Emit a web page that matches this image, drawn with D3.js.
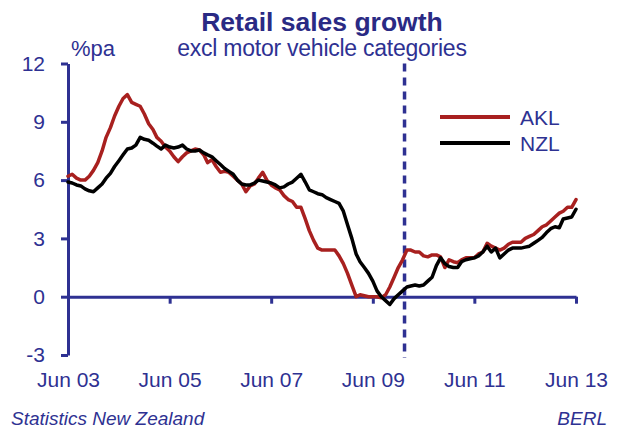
<!DOCTYPE html>
<html>
<head>
<meta charset="utf-8">
<script src="https://cdn.jsdelivr.net/npm/d3@7"></script>
<style>
  body { margin: 0; background: #fff; }
  svg { display: block; }
  text { font-family: "Liberation Sans", Arial, Helvetica, sans-serif; }
</style>
</head>
<body>
<svg id="chart" width="620" height="428"></svg>
<script>
// Annual % change in retail sales (excl. motor vehicle categories), monthly from Jun 2003
const firstMonth = new Date(2003, 5, 1);

const aklGrowth = [
  6.2, 6.3, 6.1, 6.0, 6.0, 6.2, 6.5, 6.9, 7.5, 8.2, 8.7, 9.3,
  9.8, 10.2, 10.4, 10.0, 9.9, 9.8, 9.4, 8.9, 8.6, 8.2, 8.0, 7.7,
  7.5, 7.2, 6.95, 7.2, 7.4, 7.5, 7.6, 7.55, 7.3, 6.9, 7.05, 6.7,
  6.4, 6.45, 6.4, 6.2, 6.0, 5.8, 5.4, 5.7, 5.8, 6.1, 6.4, 6.0,
  5.75, 5.6, 5.5, 5.2, 5.0, 4.9, 4.6, 4.6, 4.0, 3.4, 2.9, 2.5,
  2.4, 2.4, 2.4, 2.4, 2.1, 1.7, 1.2, 0.6, 0.0, 0.1, 0.05, 0.0,
  0.0, 0.0, -0.05, 0.1, 0.5, 1.0, 1.5, 1.9, 2.4, 2.4, 2.3, 2.3,
  2.1, 2.05, 2.15, 2.15, 2.05, 1.5, 1.9, 1.8, 1.75, 1.9, 2.0, 2.0,
  2.0, 2.2, 2.3, 2.75, 2.6, 2.5, 2.4, 2.5, 2.7, 2.8, 2.8, 2.8,
  3.0, 3.1, 3.2, 3.4, 3.6, 3.7, 3.9, 4.1, 4.3, 4.4, 4.6, 4.6,
  5.0
];

const nzlGrowth = [
  5.9, 5.85, 5.75, 5.7, 5.55, 5.45, 5.4, 5.6, 5.8, 6.1, 6.35, 6.7,
  7.0, 7.3, 7.6, 7.65, 7.8, 8.2, 8.1, 8.05, 7.9, 7.75, 7.6, 7.8,
  7.7, 7.65, 7.7, 7.8, 7.6, 7.5, 7.5, 7.55, 7.4, 7.3, 7.2, 7.0,
  6.8, 6.6, 6.45, 6.3, 6.0, 5.8, 5.75, 5.75, 5.85, 6.0, 5.95, 5.9,
  5.85, 5.75, 5.6, 5.65, 5.8, 5.9, 6.1, 6.3, 5.9, 5.5, 5.4, 5.3,
  5.25, 5.1, 5.0, 4.9, 4.8, 4.4, 3.7, 3.0, 2.2, 1.8, 1.5, 1.2,
  0.8, 0.3, 0.0, -0.2, -0.4, -0.1, 0.1, 0.3, 0.5, 0.55, 0.6, 0.55,
  0.6, 0.8, 1.0, 1.6, 2.0, 1.7, 1.55, 1.5, 1.5, 1.8, 1.9, 1.95,
  2.0, 2.1, 2.3, 2.6, 2.3, 2.5, 2.0, 2.2, 2.4, 2.5, 2.5, 2.5,
  2.55, 2.6, 2.75, 2.9, 3.05, 3.3, 3.5, 3.6, 3.55, 4.0, 4.05, 4.1,
  4.5
];

const seriesNames = ["AKL", "NZL"];
const seriesColors = ["#a8201f", "#000000"];

const xTickYears = [2003, 2005, 2007, 2009, 2011, 2013];
const xTickLabels = ["Jun 03", "Jun 05", "Jun 07", "Jun 09", "Jun 11", "Jun 13"];
const yTicks = [-3, 0, 3, 6, 9, 12];

// month marked by the dashed vertical line
const markerDate = new Date(2010, 0, 15);

const navy = "#2e3192";

const svg = d3.select("#chart");

const x = d3.scaleTime()
  .domain([new Date(2003, 5, 1), new Date(2013, 5, 1)])
  .range([68, 576]);

const y = d3.scaleLinear()
  .domain([-3, 12])
  .range([355, 63.5]);

const tickDates = xTickYears.map(yr => new Date(yr, 5, 1));

// Title block
svg.append("text")
  .attr("x", 322).attr("y", 31)
  .attr("text-anchor", "middle")
  .attr("font-size", 26.5).attr("font-weight", "bold")
  .attr("fill", "#2a2a84")
  .text("Retail sales growth");

svg.append("text")
  .attr("x", 322).attr("y", 56)
  .attr("text-anchor", "middle")
  .attr("font-size", 23)
  .attr("letter-spacing", -0.25)
  .attr("fill", navy)
  .text("excl motor vehicle categories");

svg.append("text")
  .attr("x", 71).attr("y", 56)
  .attr("font-size", 22)
  .attr("fill", navy)
  .text("%pa");

// Y axis
const yAxis = svg.append("g")
  .attr("transform", `translate(${x.range()[0]},0)`)
  .call(d3.axisLeft(y).tickValues(yTicks).tickSize(7).tickSizeOuter(0).tickPadding(16)
    .tickFormat(d => String(d)));
yAxis.select(".domain").attr("stroke", navy).attr("stroke-width", 3);
yAxis.selectAll(".tick line").attr("stroke", navy).attr("stroke-width", 3);
yAxis.selectAll(".tick text")
  .attr("fill", navy).attr("font-size", 21)
  .attr("font-family", "Liberation Sans, Arial, sans-serif");

// Zero line with tick marks
const xAxis = svg.append("g")
  .attr("transform", `translate(0,${y(0)})`)
  .call(d3.axisBottom(x).tickValues(tickDates.slice(1)).tickSize(7).tickSizeOuter(0).tickFormat(""));
xAxis.select(".domain").attr("stroke", navy).attr("stroke-width", 3);
xAxis.selectAll(".tick line").attr("stroke", navy).attr("stroke-width", 3);

// Date labels along the bottom
const xLabels = svg.append("g")
  .attr("transform", "translate(0,372)")
  .call(d3.axisBottom(x).tickValues(tickDates).tickSize(0).tickPadding(0)
    .tickFormat((d, i) => xTickLabels[i]));
xLabels.select(".domain").remove();
xLabels.selectAll(".tick text")
  .attr("fill", navy).attr("font-size", 21)
  .attr("font-family", "Liberation Sans, Arial, sans-serif");

// Dashed marker
svg.append("line")
  .attr("x1", x(markerDate)).attr("x2", x(markerDate))
  .attr("y1", y(12)).attr("y2", y(-3) + 3)
  .attr("stroke", navy).attr("stroke-width", 3.5)
  .attr("stroke-dasharray", "8,6");

// Series lines
const monthDate = i => d3.timeMonth.offset(firstMonth, i);
const line = d3.line()
  .x((v, i) => x(monthDate(i)))
  .y(v => y(v));

[aklGrowth, nzlGrowth].forEach((vals, k) => {
  svg.append("path")
    .datum(vals)
    .attr("fill", "none")
    .attr("stroke", seriesColors[k])
    .attr("stroke-width", 3.5)
    .attr("stroke-linejoin", "round")
    .attr("stroke-linecap", "round")
    .attr("d", line);
});

// Legend
const legend = svg.append("g").attr("transform", "translate(440,117)");
seriesNames.forEach((name, k) => {
  const row = legend.append("g").attr("transform", `translate(0,${k * 26})`);
  row.append("line")
    .attr("x1", 0).attr("x2", 70)
    .attr("stroke", seriesColors[k]).attr("stroke-width", 4);
  row.append("text")
    .attr("x", 80).attr("y", 7.5)
    .attr("font-size", 21).attr("fill", navy)
    .text(name);
});

// Source notes
svg.append("text")
  .attr("x", 11).attr("y", 425)
  .attr("font-size", 19).attr("font-style", "italic")
  .attr("fill", navy)
  .text("Statistics New Zealand");

svg.append("text")
  .attr("x", 607).attr("y", 425)
  .attr("text-anchor", "end")
  .attr("font-size", 19).attr("font-style", "italic")
  .attr("fill", navy)
  .text("BERL");
</script>
</body>
</html>
